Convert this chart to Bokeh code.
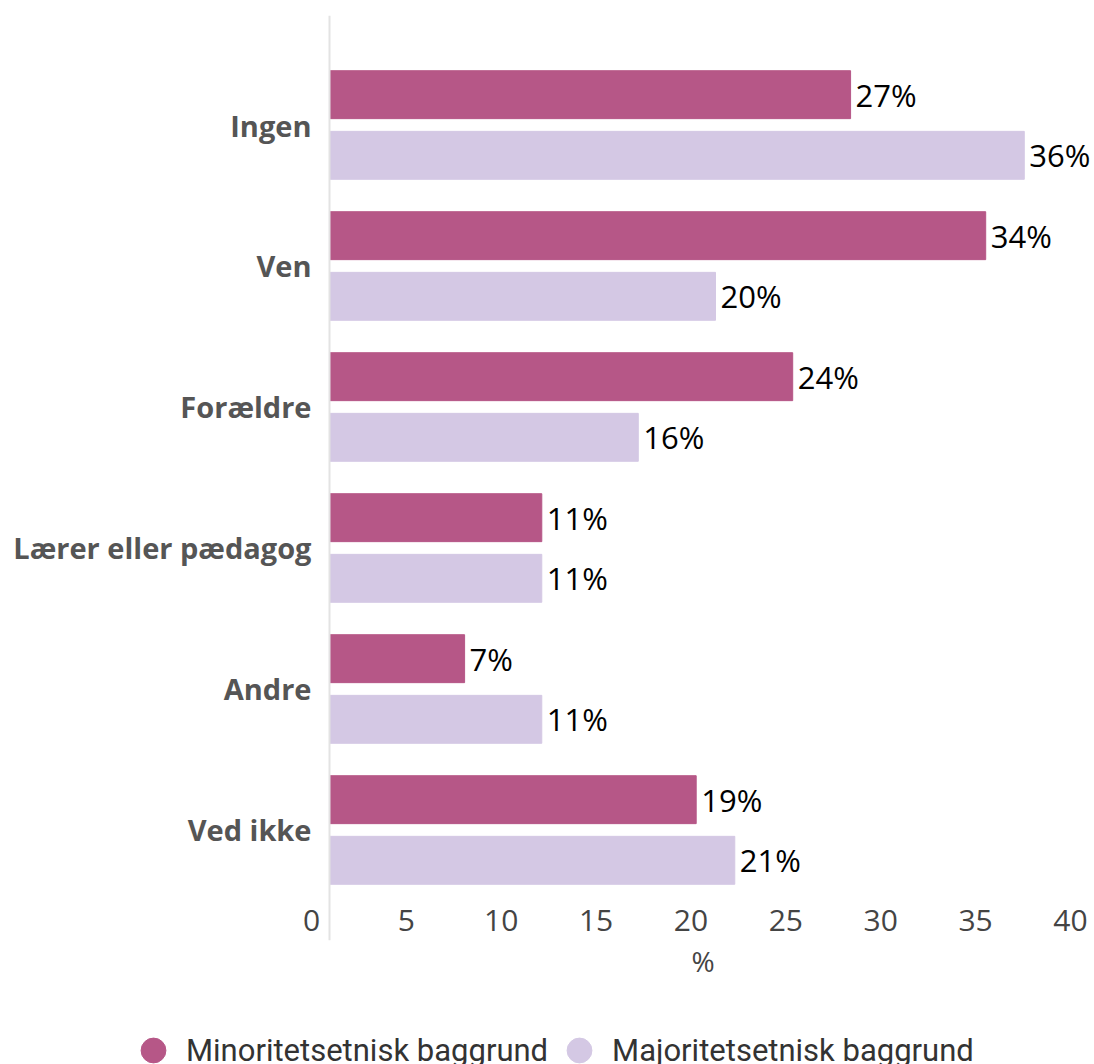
from bokeh.plotting import figure
from bokeh.layouts import column
from bokeh.models import (Range1d, LinearAxis, FixedTicker, Span, Legend, LegendItem,
                          ColumnDataSource)
from bokeh.core.properties import value
from bokeh.embed import file_html
from bokeh.resources import INLINE

# ---- data ----
categories = ["Ingen", "Ven", "Forældre", "Lærer eller pædagog", "Andre", "Ved ikke"]
minoritet = [27, 34, 24, 11, 7, 19]
majoritet = [36, 20, 16, 11, 11, 21]
series_names = ["Minoritetsetnisk baggrund", "Majoritetsetnisk baggrund"]
x_ticks = [0, 5, 10, 15, 20, 25, 30, 35, 40]
x_title = "%"

C_MIN = "#b65787"
C_MAJ = "#d4c8e4"
FONT = "Open Sans"

idx = list(range(len(categories)))
OFF = 0.215
src_min = ColumnDataSource(dict(y=[i - OFF for i in idx], v=minoritet,
                                lab=[f"{v}%" for v in minoritet]))
src_maj = ColumnDataSource(dict(y=[i + OFF for i in idx], v=majoritet,
                                lab=[f"{v}%" for v in majoritet]))

p = figure(width=1094, height=1000, output_backend="svg", toolbar_location=None,
           x_range=Range1d(-0.9326, 39.638), y_range=Range1d(5.7837, -0.7766),
           x_axis_location=None, y_axis_location="left",
           min_border_left=311, min_border_right=0, min_border_top=15, min_border_bottom=60)
p.outline_line_color = None
p.xgrid.visible = False
p.ygrid.visible = False
p.background_fill_color = "white"

# y axis (categories)
ya = p.yaxis[0]
ya.ticker = FixedTicker(ticks=idx)
ya.major_label_overrides = {i: c for i, c in zip(idx, categories)}
ya.axis_line_color = None
ya.major_tick_line_color = None
ya.minor_tick_line_color = None
ya.major_tick_out = 0
ya.major_label_standoff = 0
ya.major_label_text_font = FONT
ya.major_label_text_font_size = "29px"
ya.major_label_text_font_style = "bold"
ya.major_label_text_color = "#555555"

# x axis (ticks on separate range)
p.extra_x_ranges = {"ticks": Range1d(0, 41.265)}
xa = LinearAxis(x_range_name="ticks", ticker=FixedTicker(ticks=x_ticks),
                axis_label=x_title)
xa.axis_line_color = None
xa.major_tick_line_color = None
xa.minor_tick_line_color = None
xa.major_tick_out = 0
xa.major_tick_in = 0
xa.major_label_standoff = -31
xa.major_label_text_font = FONT
xa.major_label_text_font_size = "30px"
xa.major_label_text_color = "#444444"
xa.axis_label_standoff = 8
xa.axis_label_text_font = FONT
xa.axis_label_text_font_size = "28px"
xa.axis_label_text_font_style = "normal"
xa.axis_label_text_color = "#444444"
p.add_layout(xa, "below")

p.add_layout(Span(location=0, dimension="height", line_color="#e3e3e3", line_width=2))

H = 0.34
p.hbar(y="y", right="v", left=0, height=H, source=src_min, fill_color=C_MIN,
       line_color=C_MIN, line_width=1)
p.hbar(y="y", right="v", left=0, height=H, source=src_maj, fill_color=C_MAJ,
       line_color=C_MAJ, line_width=1)

for s in (src_min, src_maj):
    p.text(x="v", y="y", text="lab", source=s, x_offset=5, text_align="left",
           text_baseline="middle", text_font=value(FONT), text_font_size="31px",
           text_font_style="normal", text_color="#000000")

# ---- legend strip ----
lg = figure(width=1094, height=64, output_backend="svg", toolbar_location=None,
            x_range=Range1d(0, 1), y_range=Range1d(0, 1),
            x_axis_location=None, y_axis_location=None,
            min_border_left=0, min_border_right=0, min_border_top=0, min_border_bottom=0)
lg.outline_line_color = None
lg.xgrid.visible = False
lg.ygrid.visible = False
legend_x = 122
if "frame_align" in lg.properties():
    lg.frame_align = False
else:
    legend_x = 122 - 311
nan = float("nan")
r1 = lg.scatter(x=[nan], y=[nan], marker="circle", fill_color=C_MIN, line_color=C_MIN)
r2 = lg.scatter(x=[nan], y=[nan], marker="circle", fill_color=C_MAJ, line_color=C_MAJ)
legend = Legend(items=[LegendItem(label=series_names[0], renderers=[r1]),
                       LegendItem(label=series_names[1], renderers=[r2])],
                orientation="horizontal", location=(legend_x, -17),
                glyph_width=62, glyph_height=62, label_standoff=2, spacing=0,
                padding=0, margin=0, border_line_color=None, background_fill_alpha=0,
                label_text_font="Roboto", label_text_font_size="31px",
                label_text_color="#333333")
lg.add_layout(legend, "center")

layout = column(p, lg, spacing=0)
open("out.html", "w").write(file_html(layout, INLINE))
